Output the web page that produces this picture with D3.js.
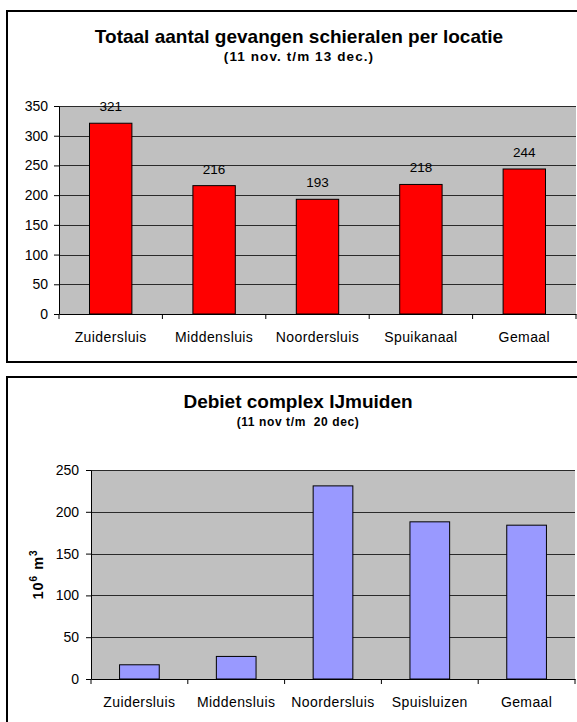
<!DOCTYPE html>
<html>
<head>
<meta charset="utf-8">
<script src="https://cdn.jsdelivr.net/npm/d3@7"></script>
<style>
  html, body { margin: 0; padding: 0; background: #fff; }
  svg { display: block; font-family: "Liberation Sans", Arial, sans-serif; }
</style>
</head>
<body>
<svg id="page" width="577" height="722"></svg>
<script>
// Catches of silver eels per location
const catchCategories = ["Zuidersluis", "Middensluis", "Noordersluis", "Spuikanaal", "Gemaal"];
const catchValues = [321, 216, 193, 218, 244];
const catchTicks = [0, 50, 100, 150, 200, 250, 300, 350];

// Discharge of the IJmuiden complex (10^6 m3)
const flowCategories = ["Zuidersluis", "Middensluis", "Noordersluis", "Spuisluizen", "Gemaal"];
const flowValues = [17, 27, 231, 188, 184];
const flowTicks = [0, 50, 100, 150, 200, 250];

const svg = d3.select("#page");

function drawPanel(cfg) {
  const g = svg.append("g");

  // outer frame (runs off the page edge)
  g.append("rect")
    .attr("x", cfg.frame.x).attr("y", cfg.frame.y)
    .attr("width", cfg.frame.w).attr("height", cfg.frame.h)
    .attr("fill", "#fff").attr("stroke", "#000").attr("stroke-width", 2);

  // titles
  g.append("text")
    .attr("x", cfg.titleX).attr("y", cfg.titleY)
    .attr("text-anchor", "middle")
    .attr("font-size", 19).attr("font-weight", "bold")
    .text(cfg.title);
  g.append("text")
    .attr("x", cfg.titleX).attr("y", cfg.subY)
    .attr("text-anchor", "middle")
    .attr("font-size", cfg.subSize).attr("font-weight", "bold")
    .attr("letter-spacing", cfg.subSpacing)
    .attr("xml:space", "preserve")
    .style("white-space", "pre")
    .text(cfg.subtitle);

  const x = d3.scaleBand()
    .domain(cfg.categories)
    .range([cfg.left, cfg.right])
    .paddingInner(0.59)
    .paddingOuter(0.295);

  const y = d3.scaleLinear()
    .domain([0, d3.max(cfg.ticks)])
    .range([cfg.bottom, cfg.top]);

  // plot area
  g.append("rect")
    .attr("x", cfg.left).attr("y", cfg.top)
    .attr("width", cfg.right - cfg.left).attr("height", cfg.bottom - cfg.top)
    .attr("fill", "#c0c0c0");

  // gridlines
  g.append("g").selectAll("line")
    .data(cfg.ticks.filter(t => t > 0))
    .join("line")
    .attr("x1", cfg.left).attr("x2", cfg.right)
    .attr("y1", d => Math.round(y(d)) + 0.5).attr("y2", d => Math.round(y(d)) + 0.5)
    .attr("stroke", "#2a2a2a").attr("stroke-width", 1);

  // bars
  g.append("g").selectAll("rect")
    .data(cfg.values)
    .join("rect")
    .attr("x", (d, i) => x(cfg.categories[i]))
    .attr("y", d => y(d))
    .attr("width", x.bandwidth())
    .attr("height", d => y(0) - y(d))
    .attr("fill", cfg.barColor)
    .attr("stroke", "#000").attr("stroke-width", 1);

  // value labels
  if (cfg.showValues) {
    g.append("g").selectAll("text")
      .data(cfg.values)
      .join("text")
      .attr("x", (d, i) => x(cfg.categories[i]) + x.bandwidth() / 2)
      .attr("y", d => y(d) - 12)
      .attr("text-anchor", "middle")
      .attr("font-size", 13.5)
      .text(d => d);
  }

  // y axis
  const yAxis = g.append("g")
    .attr("transform", `translate(${cfg.left},0)`)
    .call(d3.axisLeft(y).tickValues(cfg.ticks).tickSize(5).tickSizeOuter(0).tickPadding(cfg.yPad));
  yAxis.selectAll("text").attr("font-size", 14).attr("font-family", "Liberation Sans, Arial, sans-serif").attr("fill", "#000");
  yAxis.selectAll("line, path").attr("stroke", "#000");

  // x axis
  const xAxis = g.append("g")
    .attr("transform", `translate(0,${cfg.bottom})`)
    .call(d3.axisBottom(x).tickSize(0).tickSizeOuter(0).tickPadding(18));
  xAxis.selectAll("text").attr("font-size", 14).attr("letter-spacing", 0.4)
    .attr("font-family", "Liberation Sans, Arial, sans-serif").attr("fill", "#000");
  xAxis.select("path").attr("stroke", "#000");

  // category separators below the axis
  g.append("g").selectAll("line")
    .data(d3.range(cfg.categories.length + 1))
    .join("line")
    .attr("x1", i => cfg.left + i * x.step()).attr("x2", i => cfg.left + i * x.step())
    .attr("y1", cfg.bottom).attr("y2", cfg.bottom + 5)
    .attr("stroke", "#000");

  // y axis title
  if (cfg.yTitle) {
    const t = g.append("text")
      .attr("transform", `translate(${cfg.yTitleX},${(cfg.top + cfg.bottom) / 2}) rotate(-90)`)
      .attr("text-anchor", "middle")
      .attr("font-size", 14.5).attr("font-weight", "bold")
      .attr("letter-spacing", 1);
    t.append("tspan").text("10");
    t.append("tspan").attr("dy", -6).attr("font-size", 10).text("6");
    t.append("tspan").attr("dy", 6).text(" m");
    t.append("tspan").attr("dy", -6).attr("font-size", 10).text("3");
  }
}

drawPanel({
  frame: { x: 7, y: 11, w: 620, h: 351 },
  title: "Totaal aantal gevangen schieralen per locatie",
  subtitle: "(11 nov. t/m 13 dec.)",
  subSize: 13.5, subSpacing: 1.1,
  titleX: 299, titleY: 43, subY: 61,
  categories: catchCategories, values: catchValues, ticks: catchTicks,
  left: 59, right: 576, top: 106, bottom: 314,
  barColor: "#ff0000", showValues: true, yPad: 6
});

drawPanel({
  frame: { x: 7, y: 377, w: 620, h: 400 },
  title: "Debiet complex IJmuiden",
  subtitle: "(11 nov t/m  20 dec)",
  subSize: 12, subSpacing: 0.6,
  titleX: 298, titleY: 408, subY: 426,
  categories: flowCategories, values: flowValues, ticks: flowTicks,
  left: 91, right: 575, top: 470, bottom: 679,
  barColor: "#9999ff", showValues: false, yPad: 7,
  yTitle: true, yTitleX: 43
});
</script>
</body>
</html>
